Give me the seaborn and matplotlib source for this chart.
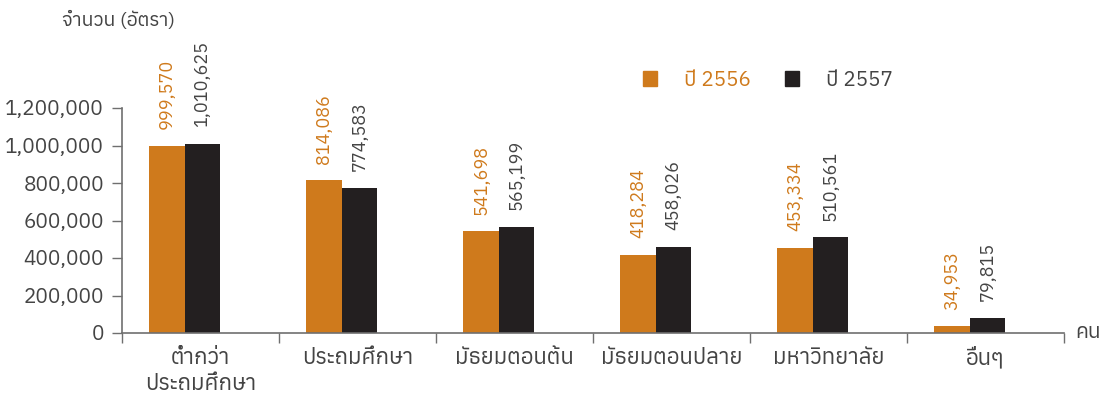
import numpy as np
import pandas as pd
import seaborn as sns
import matplotlib
matplotlib.use("Agg")
import matplotlib.pyplot as plt
from matplotlib.ticker import FuncFormatter, FixedLocator
from matplotlib.patches import Patch

categories = ["ต่ำกว่า\nประถมศึกษา", "ประถมศึกษา", "มัธยมตอนต้น", "มัธยมตอนปลาย", "มหาวิทยาลัย", "อื่นๆ"]
series_names = ["ปี 2556", "ปี 2557"]
values_2556 = [999570, 814086, 541698, 418284, 453334, 34953]
values_2557 = [1010625, 774583, 565199, 458026, 510561, 79815]
y_ticks = [0, 200000, 400000, 600000, 800000, 1000000, 1200000]

sns.set_theme(style="white")
plt.rcParams["font.family"] = ["Anuphan", "Loma", "DejaVu Sans"]

orange = "#CF7A1C"
black = "#231F20"
txt = "#444444"
axc = "#6f6f6f"

df = pd.DataFrame({
    "cat": categories * 2,
    "year": [series_names[0]] * 6 + [series_names[1]] * 6,
    "val": values_2556 + values_2557,
})

fig = plt.figure(figsize=(11.13, 4.01), dpi=100)
ax = fig.add_axes([122 / 1113, 68 / 401, (1064 - 122) / 1113, 225 / 401])
sns.barplot(data=df, x="cat", y="val", hue="year", palette=[orange, black],
            width=0.45, saturation=1, gap=0, ax=ax, legend=False, linewidth=0)

for cont, col in zip(ax.containers, [orange, txt]):
    ax.bar_label(cont, labels=[f"{v:,.0f}" for v in cont.datavalues], rotation=90,
                 padding=12, color=col, fontsize=13)

ax.set_ylim(0, 1200000)
ax.set_xlim(-0.4, 5.6)
ax.yaxis.set_major_locator(FixedLocator(y_ticks))
ax.yaxis.set_major_formatter(FuncFormatter(lambda v, p: f"{v:,.0f}"))
ax.set_xticks(np.arange(6) + 0.1)
ax.set_xticklabels(categories, fontsize=16, color=txt, linespacing=1.25)
ax.set_xticks(np.arange(7) - 0.4, minor=True)
ax.tick_params(axis="x", which="major", length=0, pad=10)
ax.tick_params(axis="x", which="minor", length=7, width=1, color=axc, direction="out", bottom=True)
ax.tick_params(axis="y", length=7, width=1, color=axc, direction="out", left=True, labelsize=15, labelcolor=txt, pad=6)
for s in ["top", "right"]:
    ax.spines[s].set_visible(False)
for s in ["left", "bottom"]:
    ax.spines[s].set_color(axc)
    ax.spines[s].set_linewidth(1.2)
ax.set_xlabel("")
ax.set_ylabel("")

ax.text(1.012, 0, "คน", transform=ax.transAxes, ha="left", va="center", fontsize=15, color=txt)
fig.text(62 / 1113, 1 - 20 / 401, "จำนวน (อัตรา)", ha="left", va="center", fontsize=14, color=txt)

handles = [Patch(color=orange), Patch(color=black)]
leg = fig.legend(handles, series_names, loc="center", bbox_to_anchor=(768 / 1113, 1 - 80 / 401),
                 ncol=2, frameon=False, fontsize=15, handlelength=0.7, handleheight=0.7,
                 columnspacing=1.6, handletextpad=1.3)
for t, c in zip(leg.get_texts(), [orange, txt]):
    t.set_color(c)

fig.savefig("out.png", dpi=100)
